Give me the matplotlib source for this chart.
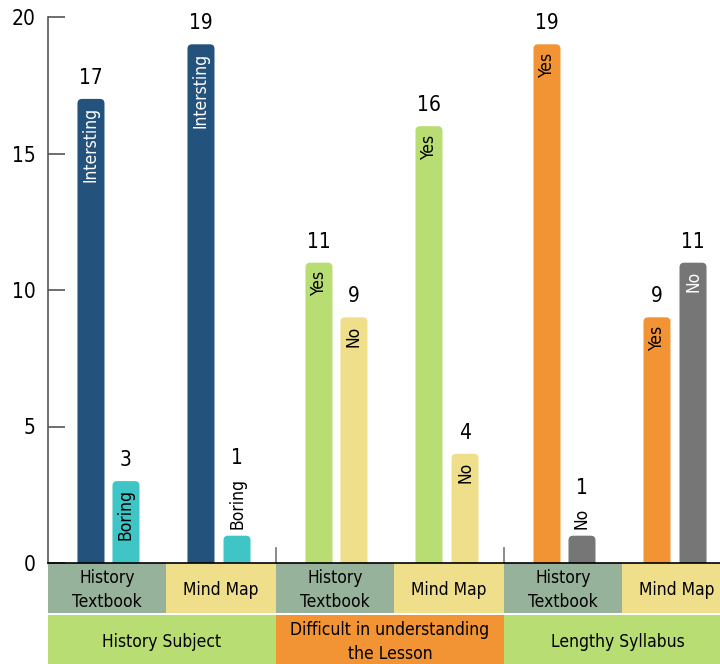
import matplotlib
matplotlib.use('Agg')
import matplotlib.pyplot as plt
from matplotlib.patches import FancyBboxPatch, Rectangle
import numpy as np

plt.rcParams['font.family'] = ['DejaVu Sans']
plt.rcParams['font.stretch'] = 'condensed'

# ---- data ----
groups = ['History Subject', 'Difficult in understanding\nthe Lesson', 'Lengthy Syllabus']
sources = ['History\nTextbook', 'Mind Map']
values = [17, 3, 19, 1,
          11, 9, 16, 4,
          19, 1, 9, 11]
bar_labels = ['Intersting', 'Boring', 'Intersting', 'Boring',
              'Yes', 'No', 'Yes', 'No',
              'Yes', 'No', 'Yes', 'No']
bar_colors = ['#23527c', '#3fc5c5'] * 2 + ['#b8dd72', '#f0df8a'] * 2 + ['#f29434', '#767676'] * 2
label_colors = ['white', 'black'] * 2 + ['black', 'black'] * 2 + ['black', 'white'] * 2
group_colors = ['#b8dd72', '#f29434', '#b8dd72']
source_colors = ['#97b29a', '#f0df8a']

# ---- layout ----
W, H = 720, 664
fig = plt.figure(figsize=(W / 100, H / 100), dpi=100)
ax = fig.add_axes([48 / W, (H - 563) / H, (W - 48) / W, (563 - 17) / H])

offsets = np.array([0.377, 0.684, 1.342, 1.658])
xpos = np.concatenate([2 * g + offsets for g in range(3)])
width = 0.237

ax.set_xlim(0, (W - 48) / 114)
ax.set_ylim(0, 20)

# bars with rounded tops
bars = ax.bar(xpos, values, width, color=bar_colors)
asp = (114 / 27.3)
for b in bars:
    b.set_visible(False)
    p = FancyBboxPatch((b.get_x(), -1), b.get_width(), b.get_height() + 1,
                       boxstyle='round,pad=0,rounding_size=0.04',
                       mutation_aspect=asp, fc=b.get_facecolor(), ec='none')
    ax.add_patch(p)

fig.canvas.draw()
rend = fig.canvas.get_renderer()
for x, v, lab, lc in zip(xpos, values, bar_labels, label_colors):
    if v >= 2:
        ax.annotate(lab, (x, v), xytext=(0, -6), textcoords='offset points',
                    rotation=90, ha='center', va='top', fontsize=12.5, color=lc)
        ax.annotate(str(v), (x, v), xytext=(0, 8), textcoords='offset points',
                    ha='center', va='bottom', fontsize=15)
    else:
        t = ax.annotate(lab, (x, v), xytext=(0, 5), textcoords='offset points',
                        rotation=90, ha='center', va='bottom', fontsize=12.5, color='black')
        ext = t.get_window_extent(rend)
        top = ext.height * 72 / fig.dpi + 5
        ax.annotate(str(v), (x, v), xytext=(0, top + 7), textcoords='offset points',
                    ha='center', va='bottom', fontsize=15)

# axes styling
for s in ['top', 'right']:
    ax.spines[s].set_visible(False)
ax.spines['left'].set_color('#555555')
ax.spines['left'].set_linewidth(1.2)
ax.spines['bottom'].set_color('black')
ax.spines['bottom'].set_linewidth(1.2)
ax.set_yticks([0, 5, 10, 15, 20])
ax.tick_params(axis='y', direction='in', length=12, width=1.2, color='#555555',
               labelsize=15, pad=9)
ax.set_xticks([])

# group dividers
for g in [2, 4]:
    ax.plot([g, g], [0, 0.55], color='#777777', lw=1.2)

# category boxes under the axis
tr = ax.get_xaxis_transform()
r1_top, r1_bot = 0, -50 / 546
r2_top, r2_bot = -52 / 546, -101 / 546
for g in range(3):
    x0 = 2 * g
    ax.add_patch(Rectangle((x0, r2_bot), 2, r2_top - r2_bot, transform=tr,
                           clip_on=False, fc=group_colors[g], ec='none'))
    ax.text(x0 + 1, -79 / 546, groups[g], transform=tr, ha='center',
            va='center', fontsize=12.5, linespacing=1.45)
    splits = [0, 1.035, 2]
    for s in range(2):
        ax.add_patch(Rectangle((x0 + splits[s], r1_bot), splits[s + 1] - splits[s],
                               r1_top - r1_bot, transform=tr, clip_on=False,
                               fc=source_colors[s], ec='none', zorder=0.5))
        ax.text(x0 + (splits[s] + splits[s + 1]) / 2, -27 / 546, sources[s],
                transform=tr, ha='center', va='center', fontsize=12.5, linespacing=1.4)

fig.savefig('out.png', dpi=100)
